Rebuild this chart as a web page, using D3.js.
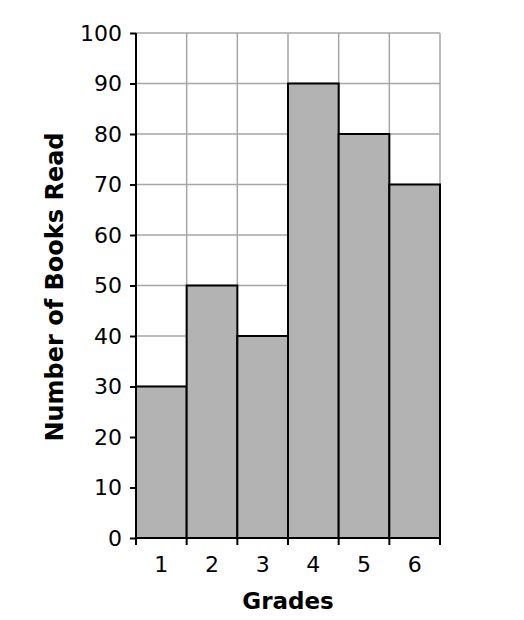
<!DOCTYPE html>
<html><head><meta charset="utf-8">
<script src="https://cdn.jsdelivr.net/npm/d3@7"></script>
<style>body{margin:0;background:#fff}</style>
</head><body>
<svg id="c" width="524" height="620"></svg>
<script>
const grades = ["1","2","3","4","5","6"];
const books = [30, 50, 40, 90, 80, 70];
const yTicks = [0,10,20,30,40,50,60,70,80,90,100];

const svg = d3.select("#c");
const m = {left:136, right:440, top:33, bottom:538};
const x = d3.scaleBand().domain(grades).range([m.left, m.right]).padding(0);
const y = d3.scaleLinear().domain([0,100]).range([m.bottom, m.top]);
const font = "DejaVu Sans, Verdana, sans-serif";

// grid
const g = svg.append("g");
g.selectAll(".hg").data(yTicks.filter(d=>d>0)).join("line")
  .attr("x1", m.left).attr("x2", m.right)
  .attr("y1", d=>y(d)).attr("y2", d=>y(d))
  .attr("stroke", "#a6a6a6").attr("stroke-width", 1.5);
g.selectAll(".vg").data(grades).join("line")
  .attr("x1", d=>x(d)+x.bandwidth()).attr("x2", d=>x(d)+x.bandwidth())
  .attr("y1", m.top).attr("y2", m.bottom)
  .attr("stroke", "#a6a6a6").attr("stroke-width", 1.5);

// bars
svg.selectAll(".bar").data(books).join("rect")
  .attr("x", (d,i)=>x(grades[i]))
  .attr("y", d=>y(d))
  .attr("width", x.bandwidth())
  .attr("height", d=>m.bottom - y(d))
  .attr("fill", "#b3b3b3").attr("stroke", "#000").attr("stroke-width", 2);

// y axis
const ya = svg.append("g").attr("transform", `translate(${m.left},0)`)
  .call(d3.axisLeft(y).tickValues(yTicks).tickSize(6).tickPadding(8));
ya.attr("font-size", null).attr("font-family", null);
ya.select(".domain").attr("stroke-width", 2).attr("d", `M0,${m.top}V${m.bottom}`);
ya.selectAll(".tick line").attr("stroke-width", 2);
ya.selectAll("text").style("font-family", font).style("font-size", "22px").attr("fill", "#000");

// x axis
const xa = svg.append("g").attr("transform", `translate(0,${m.bottom})`)
  .call(d3.axisBottom(x).tickSize(0).tickPadding(18));
xa.attr("font-size", null).attr("font-family", null);
xa.select(".domain").attr("stroke-width", 2).attr("d", `M${m.left},0H${m.right}`);
xa.selectAll("text").style("font-family", font).style("font-size", "22px").attr("fill", "#000");
xa.selectAll(".bt").data([m.left, ...grades.map(d=>x(d)+x.bandwidth())]).join("line")
  .attr("x1", d=>d).attr("x2", d=>d).attr("y1", 0).attr("y2", 7)
  .attr("stroke", "#000").attr("stroke-width", 2);

// titles
svg.append("text").attr("x", (m.left+m.right)/2).attr("y", 609)
  .attr("text-anchor", "middle").style("font-family", font).attr("font-weight", "bold")
  .style("font-size", "23px").text("Grades");
svg.append("text").attr("transform", `translate(63,287) rotate(-90)`)
  .attr("text-anchor", "middle").style("font-family", font).attr("font-weight", "bold")
  .style("font-size", "24px").text("Number of Books Read");
</script>
</body></html>
